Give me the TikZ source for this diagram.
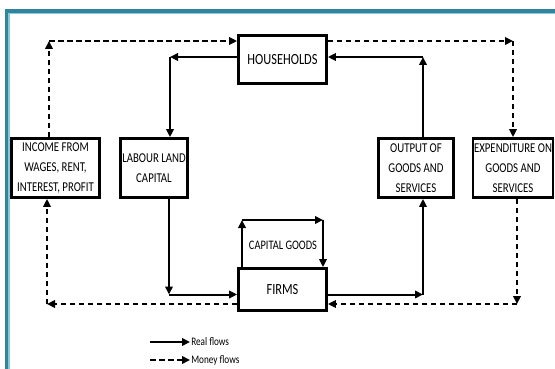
\documentclass[tikz,border=0pt]{standalone}
\usepackage{fontspec}
\setmainfont{Carlito}[FakeStretch=0.8]
\usepackage{tikz}
\usetikzlibrary{arrows.meta,positioning}

\definecolor{frameteal}{RGB}{49,132,155}
\definecolor{framelight}{RGB}{140,200,220}

\begin{document}
\begin{tikzpicture}[x=1pt, y=-1pt, >={Triangle[length=8pt,width=7.5pt]},
                    semithick]
    \tikzstyle{box}=[draw, line width=2.8pt, align=center, inner sep=1pt,
                     font=\fontsize{13.5}{20}\selectfont]
    \tikzstyle{bigbox}=[box, font=\fontsize{15.5}{18}\selectfont]
    \tikzstyle{real}=[->, line width=2pt]
    \tikzstyle{money}=[->, line width=2.4pt, dash pattern=on 5.5pt off 3.5pt]
    \tikzstyle{legend}=[inner sep=1pt, font=\fontsize{11.5}{13}\selectfont]

    \useasboundingbox (0,0) rectangle (555,369);
    \fill[white] (0,0) rectangle (555,369);
    % frame
    \draw[framelight, line width=2pt] (9,380) -- (9,13) -- (570,13);
    \draw[frameteal, line width=3.2pt] (6.5,380) -- (6.5,11) -- (570,11);

    \node[bigbox, minimum width=88pt, minimum height=48pt] (hh)  at (282.5,59.5) {HOUSEHOLDS};
    \node[bigbox, minimum width=88pt, minimum height=42pt] (fir) at (282.5,289.5) {FIRMS};
    \node[box, minimum width=88pt, minimum height=59pt]    (inc) at (55.5,168)  {INCOME FROM\\WAGES, RENT,\\INTEREST, PROFIT};
    \node[box, minimum width=67pt, minimum height=59pt]    (lab) at (154,168)   {LABOUR LAND\\CAPITAL};
    \node[box, minimum width=75pt, minimum height=59pt]    (out) at (416,168)   {OUTPUT OF\\GOODS AND\\SERVICES};
    \node[box, minimum width=79pt, minimum height=59pt]    (exp) at (513,168)   {EXPENDITURE ON\\GOODS AND\\SERVICES};
    \node[inner sep=1pt, font=\fontsize{13}{15}\selectfont] (cg) at (283,245) {CAPITAL GOODS};

    \coordinate (hl) at (170,57);
    \coordinate (ih) at (49,41);
    \coordinate (he) at (513,41);
    \coordinate (oh) at (423,57);
    \coordinate (lf) at (169,294.5);
    \coordinate (fo) at (423,294.5);
    \coordinate (ef) at (517,304);
    \coordinate (fi) at (47,304);
    \coordinate (cga) at (242,220);
    \coordinate (cgb) at (323,220);

    % real flows
    \draw[real] (hh.west |- hl) -- (hl);
    \draw[real] (hl) -- (hl |- lab.north);
    \draw[real] (oh |- out.north) -- (oh);
    \draw[real] (oh) -- (hh.east |- oh);
    \draw[real] (lf |- lab.south) -- (lf);
    \draw[real] (lf) -- (fir.west |- lf);
    \draw[real] (fir.east |- fo) -- (fo);
    \draw[real] (fo) -- (fo |- out.south);
    \draw[real] (cga |- fir.north) -- (cga);
    \draw[real] (cga) -- (cgb);
    \draw[real] (cgb) -- (cgb |- fir.north);

    % money flows
    \draw[money] (ih |- inc.north) -- (ih);
    \draw[money] (ih) -- (hh.west |- ih);
    \draw[money] (hh.east |- he) -- (he);
    \draw[money] (he) -- (he |- exp.north);
    \draw[money] (ef |- exp.south) -- (ef);
    \draw[money] (ef) -- (fir.east |- ef);
    \draw[money] (fir.west |- fi) -- (fi);
    \draw[money] (fi) -- (fi |- inc.south);

    % legend
    \node[legend, anchor=west] (lgr) at (190,342) {Real flows};
    \node[legend, anchor=west] (lgm) at (190,360) {Money flows};
    \coordinate (lgra) at (150,342);
    \coordinate (lgma) at (150,360);
    \draw[real]  (lgra) -- (lgr.west);
    \draw[money] (lgma) -- (lgm.west);
\end{tikzpicture}
\end{document}
